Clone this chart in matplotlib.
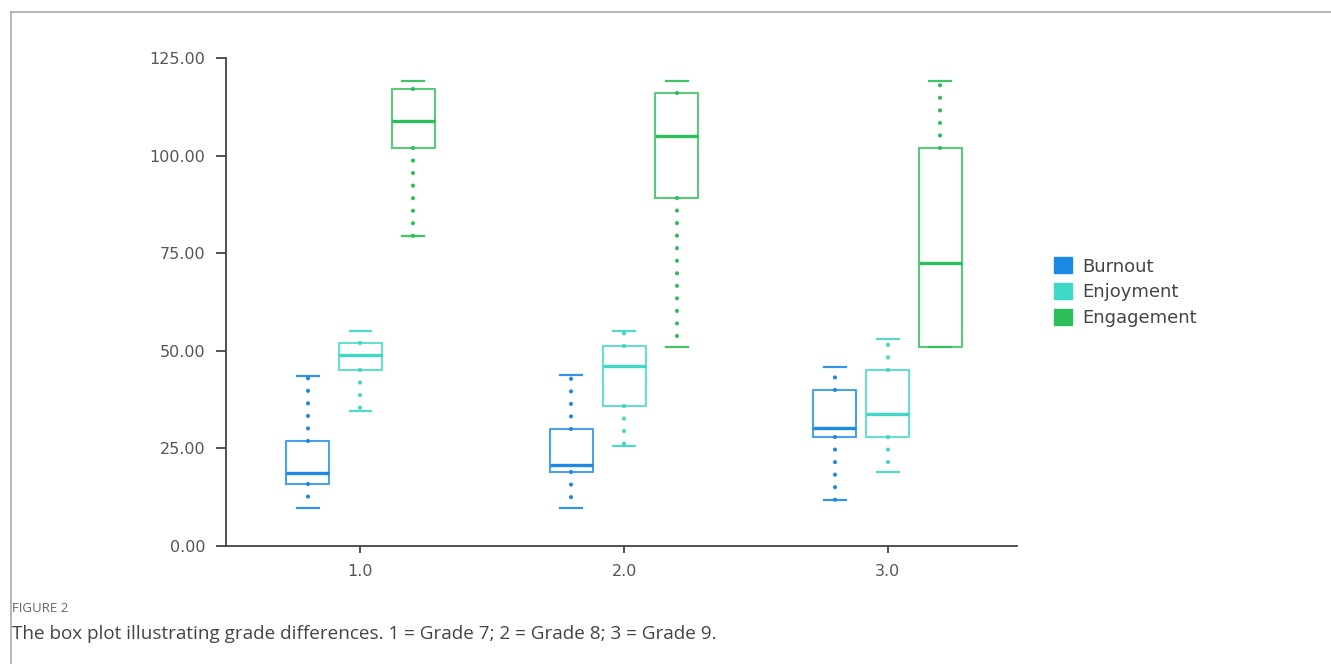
import matplotlib.pyplot as plt
from matplotlib.lines import Line2D
from matplotlib.patches import Patch

grades = [1.0, 2.0, 3.0]
series = ["Burnout", "Enjoyment", "Engagement"]
colors = ["#1e88e5", "#3fd8c4", "#2dbd5a"]

# five-number summaries per grade: [low whisker, Q1, median, Q3, high whisker]
burnout = [[9.7, 15.8, 18.8, 26.9, 43.5],
           [9.7, 19.0, 20.7, 29.9, 43.9],
           [11.7, 27.9, 30.1, 39.9, 45.8]]
enjoyment = [[34.7, 45.0, 48.8, 51.9, 55.0],
             [25.7, 35.9, 46.1, 51.2, 55.0],
             [19.0, 27.9, 33.9, 45.0, 53.0]]
engagement = [[79.4, 102.0, 108.9, 117.0, 119.2],
              [51.0, 89.2, 104.9, 116.0, 119.2],
              [51.0, 51.0, 72.5, 101.9, 119.2]]
all_series = [burnout, enjoyment, engagement]
offsets = [-0.2, 0.0, 0.2]

fig = plt.figure(figsize=(13.31, 6.64), dpi=100)
ax = fig.add_axes([0.1698, 0.1777, 0.5942, 0.735])

for vals, col, off in zip(all_series, colors, offsets):
    stats = []
    for v in vals:
        stats.append({"whislo": v[0], "q1": v[1], "med": v[2], "q3": v[3],
                      "whishi": v[4], "fliers": []})
    ax.bxp(stats, positions=[g + off for g in grades], widths=0.163,
           showfliers=False, manage_ticks=False,
           boxprops=dict(color=col, alpha=0.8, linewidth=1.5),
           medianprops=dict(color=col, linewidth=2.4),
           whiskerprops=dict(color=col, linewidth=3.0, linestyle=(0, (0.01, 3.0)),
                             dash_capstyle="round"),
           capprops=dict(color=col, linewidth=1.6, alpha=0.9),
           capwidths=0.083)

ax.set_xlim(0.49, 3.49)
ax.set_ylim(0, 125)
ax.set_xticks(grades)
ax.set_xticklabels([f"{g:.1f}" for g in grades])
ax.set_yticks([0, 25, 50, 75, 100, 125])
ax.set_yticklabels([f"{t:.2f}" for t in [0, 25, 50, 75, 100, 125]])
for s in ["top", "right"]:
    ax.spines[s].set_visible(False)
for s in ["left", "bottom"]:
    ax.spines[s].set_color("#444444")
    ax.spines[s].set_linewidth(1.3)
ax.tick_params(axis="y", length=7, width=1.3, color="#444444", pad=8,
               labelsize=11.5, labelcolor="#555555")
ax.tick_params(axis="x", length=5, width=1.3, color="#444444", pad=8,
               labelsize=11.5, labelcolor="#555555")

handles = [Patch(facecolor=c, edgecolor=c) for c in colors]
fig.legend(handles, series, loc="upper left", bbox_to_anchor=(0.7795, 0.637),
           frameon=False, fontsize=13, handlelength=1.0, handleheight=1.0,
           handletextpad=0.6, labelspacing=0.42, labelcolor="#444444")

# figure frame
fig.add_artist(Line2D([11 / 1331, 1], [1 - 12 / 664, 1 - 12 / 664],
                      transform=fig.transFigure, color="#aaaaaa", linewidth=1.2))
fig.add_artist(Line2D([11 / 1331, 11 / 1331], [0, 1 - 12 / 664],
                      transform=fig.transFigure, color="#aaaaaa", linewidth=1.2))

fig.text(12 / 1331, 1 - 608 / 664, "FIGURE 2", fontsize=9.5, color="#666666",
         family="Open Sans", va="center")
fig.text(12 / 1331, 1 - 634 / 664,
         "The box plot illustrating grade differences. 1 = Grade 7; 2 = Grade 8; 3 = Grade 9.",
         fontsize=13.6, color="#444444", family="Open Sans", va="center")

fig.savefig("out.png", dpi=100)
